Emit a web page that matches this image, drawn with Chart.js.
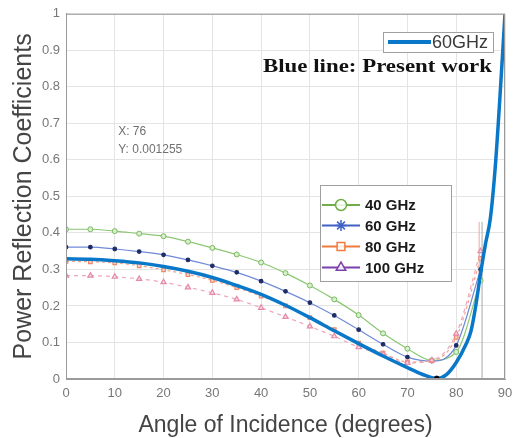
<!DOCTYPE html>
<html lang="en">
<head>
    <meta charset="UTF-8">
    <title>Power Reflection Coefficients</title>
    <script src="https://cdn.jsdelivr.net/npm/chart.js@4.4.1/dist/chart.umd.min.js"></script>
    <style>
        html, body { margin: 0; padding: 0; background: #fff; }
        #wrap { width: 524px; height: 438px; }
    </style>
</head>
<body>
<div id="wrap"><canvas id="myChart" width="524" height="438"></canvas></div>

<script>
    // angles (degrees) of the marked series
    var angles = [0, 5, 10, 15, 20, 25, 30, 35, 40, 45, 50, 55, 60, 65, 70, 75, 80, 85];
    var ghz40 = [0.410, 0.410, 0.405, 0.398, 0.391, 0.376, 0.359, 0.341, 0.319, 0.290, 0.256, 0.218, 0.175, 0.125, 0.083, 0.051, 0.074, 0.27];
    var ghz60 = [0.361, 0.361, 0.356, 0.349, 0.340, 0.326, 0.310, 0.292, 0.268, 0.240, 0.209, 0.174, 0.135, 0.095, 0.060, 0.049, 0.092, 0.30];
    var ghz80 = [0.322, 0.321, 0.318, 0.310, 0.299, 0.286, 0.270, 0.250, 0.227, 0.200, 0.168, 0.135, 0.098, 0.071, 0.047, 0.050, 0.114, 0.33];
    var ghz100 = [0.283, 0.283, 0.280, 0.274, 0.265, 0.251, 0.236, 0.218, 0.195, 0.170, 0.144, 0.117, 0.087, 0.068, 0.044, 0.051, 0.124, 0.35];

    // present work, 60GHz (thick blue)
    var workAngles = [0, 5, 10, 15, 20, 25, 30, 35, 40, 45, 50, 55, 60, 65, 70, 73, 76, 78, 80, 82, 83, 84, 85, 86, 87, 88, 89, 90];
    var workValues = [0.329, 0.328, 0.324, 0.318, 0.308, 0.295, 0.278, 0.256, 0.232, 0.202, 0.168, 0.132, 0.097, 0.063, 0.031, 0.013, 0.0013, 0.012, 0.045, 0.095, 0.13, 0.2, 0.29, 0.37, 0.44, 0.58, 0.78, 1.0];

    // data tip
    var tipX = 76;
    var tipY = 0.001255;

    // thin vertical lines near 85 degrees
    var grayLineX = [85.3, 85.3];
    var grayLineY = [0, 0.43];
    var pinkLineX = [84.7, 84.7];
    var pinkLineY = [0.27, 0.43];

    var xTicks = [0, 10, 20, 30, 40, 50, 60, 70, 80, 90];
    var yTicks = [0, 0.1, 0.2, 0.3, 0.4, 0.5, 0.6, 0.7, 0.8, 0.9, 1];

    function pts(xs, ys) {
        return xs.map(function (x, i) { return {x: x, y: ys[i]}; });
    }

    // legend entries for the lower legend box
    var legendItems = [
        {label: '40 GHz', color: '#6fae48', style: 'circle'},
        {label: '60 GHz', color: '#3f62c4', style: 'star'},
        {label: '80 GHz', color: '#ef7b3c', style: 'rect'},
        {label: '100 GHz', color: '#7b3fae', style: 'triangle'}
    ];

    var extras = {
        id: 'extras',
        afterDraw: function (chart) {
            var ctx = chart.ctx;
            var a = chart.chartArea;
            var xs = chart.scales.x, ys = chart.scales.y;
            ctx.save();
            // frame
            ctx.strokeStyle = '#9a9a9a';
            ctx.lineWidth = 1;
            ctx.strokeRect(a.left + 0.5, a.top + 0.5, a.right - a.left - 1, a.bottom - a.top - 1);

            // data tip text
            ctx.fillStyle = '#707070';
            ctx.font = '12px "Liberation Sans", Arial, sans-serif';
            ctx.textBaseline = 'middle';
            ctx.textAlign = 'left';
            ctx.fillText('X: ' + tipX, xs.getPixelForValue(10.7), ys.getPixelForValue(0.678));
            ctx.fillText('Y: ' + tipY, xs.getPixelForValue(10.7), ys.getPixelForValue(0.627));

            // upper legend
            ctx.fillStyle = '#fff';
            ctx.fillRect(383, 32, 110, 20);
            ctx.strokeStyle = '#a0a0a0';
            ctx.strokeRect(383.5, 32.5, 110, 20);
            ctx.strokeStyle = '#0a78c8';
            ctx.lineWidth = 4;
            ctx.beginPath();
            ctx.moveTo(388, 42);
            ctx.lineTo(431, 42);
            ctx.stroke();
            ctx.fillStyle = '#3a3a3a';
            ctx.font = '18px "Liberation Sans", Arial, sans-serif';
            ctx.fillText('60GHz', 432, 43);

            // note
            ctx.fillStyle = '#111';
            ctx.font = 'bold 19px "Liberation Serif", "Times New Roman", serif';
            var note = 'Blue line: Present work';
            var w = ctx.measureText(note).width;
            ctx.save();
            ctx.translate(263, 67);
            ctx.scale(229 / w, 1);
            ctx.fillText(note, 0, 0);
            ctx.restore();

            // lower legend
            ctx.fillStyle = '#fff';
            ctx.fillRect(320, 185, 131, 96);
            ctx.strokeStyle = '#a0a0a0';
            ctx.lineWidth = 1;
            ctx.strokeRect(320.5, 185.5, 131, 96);
            var rowY = [205, 225.5, 246.5, 267.5];
            legendItems.forEach(function (it, i) {
                var y = rowY[i];
                ctx.strokeStyle = it.color;
                ctx.lineWidth = 2;
                ctx.beginPath();
                ctx.moveTo(322, y);
                ctx.lineTo(360, y);
                ctx.stroke();
                ctx.fillStyle = 'rgba(255,255,255,0.85)';
                ctx.lineWidth = 1.5;
                Chart.helpers.drawPoint(ctx, {
                    pointStyle: it.style, radius: 5.5, rotation: 0, borderWidth: 1.5
                }, 341, y);
                ctx.fillStyle = '#1a1a1a';
                ctx.font = 'bold 15px "Liberation Sans", Arial, sans-serif';
                ctx.fillText(it.label, 365, y + 1);
            });
            // figure label, mostly cut off
            ctx.fillStyle = '#444';
            ctx.font = '20px "Liberation Sans", Arial, sans-serif';
            ctx.textAlign = 'center';
            ctx.fillText('(a)', 274, 447);
            ctx.restore();
        }
    };

    var tickFont = {family: '"Liberation Sans", Arial, sans-serif', size: 13};

    var ctx = document.getElementById('myChart').getContext('2d');
    var chart = new Chart(ctx, {
        type: 'line',
        data: {
            datasets: [
                {
                    label: 'Data tip', data: pts([tipX], [tipY]), showLine: false,
                    pointRadius: 2.5, pointBackgroundColor: '#000', pointBorderColor: '#000', order: 0
                },
                {
                    label: '60GHz', data: pts(workAngles, workValues), borderColor: '#0a78c8',
                    borderWidth: 3.5, pointRadius: 0, cubicInterpolationMode: 'monotone', order: 1
                },
                {
                    label: '40 GHz', data: pts(angles, ghz40), borderColor: '#8cc873', borderWidth: 1.2,
                    pointStyle: 'circle', pointRadius: 2.5, pointBorderColor: '#79b95c', pointBackgroundColor: '#d8efcf',
                    pointBorderWidth: 1, cubicInterpolationMode: 'monotone', order: 5
                },
                {
                    label: '60 GHz', data: pts(angles, ghz60), borderColor: '#7089d8', borderWidth: 1.2,
                    pointStyle: 'circle', pointRadius: 1.8, pointBorderColor: '#1f2d66', pointBackgroundColor: '#1f2d66',
                    cubicInterpolationMode: 'monotone', order: 4
                },
                {
                    label: '80 GHz', data: pts(angles, ghz80), borderColor: '#f3a48a', borderWidth: 1.2,
                    pointStyle: 'rect', pointRadius: 2.5, pointBorderColor: '#ec8a6c', pointBackgroundColor: '#f9d5c8',
                    borderDash: [3, 3], cubicInterpolationMode: 'monotone', order: 3
                },
                {
                    label: '100 GHz', data: pts(angles, ghz100), borderColor: '#eea6bb', borderWidth: 1.2,
                    pointStyle: 'triangle', pointRadius: 3, pointBorderColor: '#e48aa6', pointBackgroundColor: '#f8dbe5',
                    borderDash: [4, 4], cubicInterpolationMode: 'monotone', order: 2
                },
                {
                    label: 'line a', data: pts(grayLineX, grayLineY), borderColor: '#a8a8a8',
                    borderWidth: 1, pointRadius: 0, order: 6
                },
                {
                    label: 'line b', data: pts(pinkLineX, pinkLineY), borderColor: '#e8a8a0',
                    borderWidth: 1, pointRadius: 0, order: 6
                }
            ]
        },
        options: {
            responsive: false,
            animation: false,
            layout: {padding: {top: 9, right: 19, left: 0, bottom: 0}},
            plugins: {legend: {display: false}, tooltip: {enabled: false}},
            scales: {
                x: {
                    type: 'linear', min: 0, max: 90,
                    afterBuildTicks: function (s) { s.ticks = xTicks.map(function (v) { return {value: v}; }); },
                    afterFit: function (s) { s.height = 59; },
                    grid: {color: '#e4e4e4', drawTicks: false},
                    border: {color: '#9a9a9a'},
                    ticks: {color: '#777', font: tickFont, padding: 7, maxRotation: 0,
                        callback: function (v) { return String(v); }},
                    title: {
                        display: true, text: 'Angle of Incidence (degrees)', color: '#444',
                        font: {family: '"Liberation Sans", Arial, sans-serif', size: 23, lineHeight: 1},
                        padding: {top: 0, bottom: 1}
                    }
                },
                y: {
                    min: 0, max: 1,
                    afterBuildTicks: function (s) { s.ticks = yTicks.map(function (v) { return {value: v}; }); },
                    afterFit: function (s) { s.width = 66; },
                    grid: {color: '#e4e4e4', drawTicks: false},
                    border: {color: '#9a9a9a'},
                    ticks: {color: '#777', font: tickFont, padding: 6,
                        callback: function (v) { return String(v); }},
                    title: {
                        display: true, text: 'Power Reflection Coefficients', color: '#444',
                        font: {family: '"Liberation Sans", Arial, sans-serif', size: 25, lineHeight: 1},
                        padding: {top: 12, bottom: 0}
                    }
                }
            }
        },
        plugins: [extras]
    });
</script>
</body>
</html>
